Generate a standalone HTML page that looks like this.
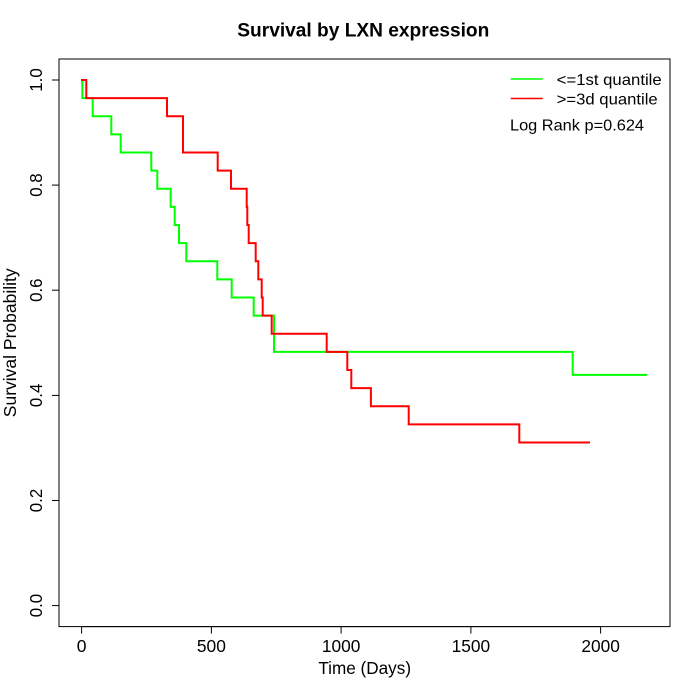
<!DOCTYPE html>
<html><head><meta charset="utf-8"><style>
html,body{margin:0;padding:0;background:#fff;}
svg{display:block;}
text{font-family:"Liberation Sans",Arial,sans-serif;fill:#000;}
</style></head><body>
<svg width="700" height="700" viewBox="0 0 700 700" xmlns="http://www.w3.org/2000/svg">
<rect x="0" y="0" width="700" height="700" fill="#fff"/>
<!-- box -->
<rect x="59" y="59" width="611" height="567.6" fill="none" stroke="#000" stroke-width="1"/>
<!-- title -->
<text x="363.3" y="36.7" font-size="19" font-weight="bold" text-anchor="middle" textLength="252" lengthAdjust="spacingAndGlyphs">Survival by LXN expression</text>
<!-- x axis -->
<g stroke="#000" stroke-width="1" fill="none">
<line x1="81.6" y1="626.6" x2="600.6" y2="626.6"/>
<line x1="81.6" y1="626.6" x2="81.6" y2="633.6"/>
<line x1="211.4" y1="626.6" x2="211.4" y2="633.6"/>
<line x1="341.1" y1="626.6" x2="341.1" y2="633.6"/>
<line x1="470.9" y1="626.6" x2="470.9" y2="633.6"/>
<line x1="600.6" y1="626.6" x2="600.6" y2="633.6"/>
</g>
<g font-size="17.5" text-anchor="middle">
<text x="81.6" y="652">0</text>
<text x="211.4" y="652" textLength="29" lengthAdjust="spacingAndGlyphs">500</text>
<text x="341.1" y="652" textLength="38.5" lengthAdjust="spacingAndGlyphs">1000</text>
<text x="470.9" y="652" textLength="38.5" lengthAdjust="spacingAndGlyphs">1500</text>
<text x="600.6" y="652" textLength="38.5" lengthAdjust="spacingAndGlyphs">2000</text>
</g>
<text x="364.7" y="674" font-size="17.5" text-anchor="middle" textLength="92.7" lengthAdjust="spacingAndGlyphs">Time (Days)</text>
<!-- y axis -->
<g stroke="#000" stroke-width="1" fill="none">
<line x1="59" y1="605.6" x2="59" y2="80"/>
<line x1="52" y1="605.6" x2="59" y2="605.6"/>
<line x1="52" y1="500.5" x2="59" y2="500.5"/>
<line x1="52" y1="395.4" x2="59" y2="395.4"/>
<line x1="52" y1="290.2" x2="59" y2="290.2"/>
<line x1="52" y1="185.1" x2="59" y2="185.1"/>
<line x1="52" y1="80" x2="59" y2="80"/>
</g>
<g font-size="17.5" text-anchor="middle">
<text transform="translate(42,605.6) rotate(-90)" textLength="23.4" lengthAdjust="spacingAndGlyphs">0.0</text>
<text transform="translate(42,500.5) rotate(-90)" textLength="23.4" lengthAdjust="spacingAndGlyphs">0.2</text>
<text transform="translate(42,395.4) rotate(-90)" textLength="23.4" lengthAdjust="spacingAndGlyphs">0.4</text>
<text transform="translate(42,290.2) rotate(-90)" textLength="23.4" lengthAdjust="spacingAndGlyphs">0.6</text>
<text transform="translate(42,185.1) rotate(-90)" textLength="23.4" lengthAdjust="spacingAndGlyphs">0.8</text>
<text transform="translate(42,80) rotate(-90)" textLength="23.4" lengthAdjust="spacingAndGlyphs">1.0</text>
</g>
<text transform="translate(16,342.8) rotate(-90)" font-size="17.5" text-anchor="middle">Survival Probability</text>
<!-- curves -->
<path d="M81.6,80 H82.3 V98.1 H92.7 V116.2 H111.3 V134.4 H120.7 V152.5 H151.3 V170.6 H157.3 V188.7 H170.7 V206.9 H174.7 V225.0 H179 V243.1 H186.3 V261.2 H217.3 V279.4 H231.7 V297.5 H253.7 V315.6 H274 V351.9 H572.7 V374.9 H647.3" fill="none" stroke="#00ff00" stroke-width="2"/>
<path d="M81,80 H86.3 V98.1 H167 V116.2 H183 V152.5 H217.7 V170.6 H231 V188.7 H246.7 V206.9 H247.3 V225.0 H248.7 V243.1 H255.7 V261.2 H258.3 V279.4 H261.7 V297.5 H262.7 V315.6 H271.7 V333.7 H326.7 V351.9 H347.3 V370.0 H351.3 V388.1 H370.9 V406.2 H408.7 V424.4 H519.3 V442.5 H590" fill="none" stroke="#ff0000" stroke-width="2"/>
<!-- legend -->
<line x1="510.7" y1="79" x2="542.7" y2="79" stroke="#00ff00" stroke-width="1.5"/>
<line x1="510.7" y1="98.5" x2="542.7" y2="98.5" stroke="#ff0000" stroke-width="1.5"/>
<text x="556.7" y="85" font-size="16" textLength="105" lengthAdjust="spacingAndGlyphs">&lt;=1st quantile</text>
<text x="556.7" y="104.7" font-size="16" textLength="101" lengthAdjust="spacingAndGlyphs">&gt;=3d quantile</text>
<text x="510" y="130.7" font-size="16" textLength="134" lengthAdjust="spacingAndGlyphs">Log Rank p=0.624</text>
</svg>
</body></html>
